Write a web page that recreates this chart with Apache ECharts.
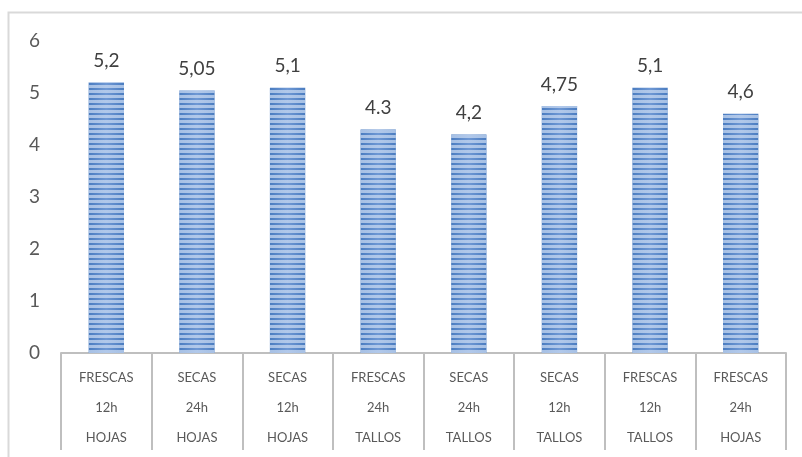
<!DOCTYPE html>
<html>
<head>
<meta charset="utf-8">
<script src="https://cdn.jsdelivr.net/npm/echarts@6/dist/echarts.min.js"></script>
<style>
  html, body { margin: 0; padding: 0; background: #ffffff; }
  #chart { width: 802px; height: 457px; }
</style>
</head>
<body>
<div id="chart"></div>
<script>
// Three-level category labels: state / time / plant part
const estados = ['FRESCAS', 'SECAS', 'SECAS', 'FRESCAS', 'SECAS', 'SECAS', 'FRESCAS', 'FRESCAS'];
const tiempos = ['12h', '24h', '12h', '24h', '24h', '12h', '12h', '24h'];
const partes  = ['HOJAS', 'HOJAS', 'HOJAS', 'TALLOS', 'TALLOS', 'TALLOS', 'TALLOS', 'HOJAS'];

// Bar values and the text printed above each bar
const valores  = [5.2, 5.05, 5.1, 4.3, 4.2, 4.75, 5.1, 4.6];
const etiquetas = ['5,2', '5,05', '5,1', '4.3', '4,2', '4,75', '5,1', '4,6'];

// Y axis range
const yMin = 0, yMax = 6, yStep = 1;

const categorias = estados.map((e, i) => e + '\n' + tiempos[i] + '\n' + partes[i]);

const chart = echarts.init(document.getElementById('chart'), null, { renderer: 'canvas' });

const barFill = new echarts.graphic.LinearGradient(0, 0, 1, 0, [
  { offset: 0, color: '#4a7cc0' },
  { offset: 0.5, color: '#6f98d4' },
  { offset: 1, color: '#4a7cc0' }
]);

chart.setOption({
  animation: false,
  backgroundColor: '#ffffff',
  textStyle: { fontFamily: 'Lato, "Open Sans", sans-serif' },
  graphic: [{
    type: 'rect',
    silent: true,
    shape: { x: 8.5, y: 12.5, width: 900, height: 500 },
    style: { fill: 'none', stroke: '#d9d9d9', lineWidth: 2 }
  }],
  grid: { left: 61, right: 16, top: 41, bottom: 104 },
  xAxis: {
    type: 'category',
    data: categorias,
    axisLine: { show: true, lineStyle: { color: '#bfbfbf', width: 2 } },
    axisTick: { show: true, interval: 0, length: 97, lineStyle: { color: '#bfbfbf', width: 2 } },
    axisLabel: {
      interval: 0,
      color: '#595959',
      fontSize: 13,
      lineHeight: 30,
      margin: 10,
      fontFamily: 'Lato, "Open Sans", sans-serif'
    }
  },
  yAxis: {
    type: 'value',
    min: yMin,
    max: yMax,
    interval: yStep,
    axisLine: { show: false },
    axisTick: { show: false },
    splitLine: { show: false },
    axisLabel: { color: '#595959', fontSize: 19, margin: 21 }
  },
  series: [{
    type: 'bar',
    data: valores,
    barWidth: '39%',
    itemStyle: {
      color: barFill,
      decal: {
        symbol: 'rect',
        dashArrayX: [1, 0],
        dashArrayY: [2.5, 2],
        rotation: 0,
        color: 'rgba(205,221,244,0.7)'
      }
    },
    label: {
      show: true,
      position: 'top',
      distance: 12,
      fontSize: 19,
      color: '#404040',
      formatter: (p) => etiquetas[p.dataIndex]
    }
  }]
});
</script>
</body>
</html>
